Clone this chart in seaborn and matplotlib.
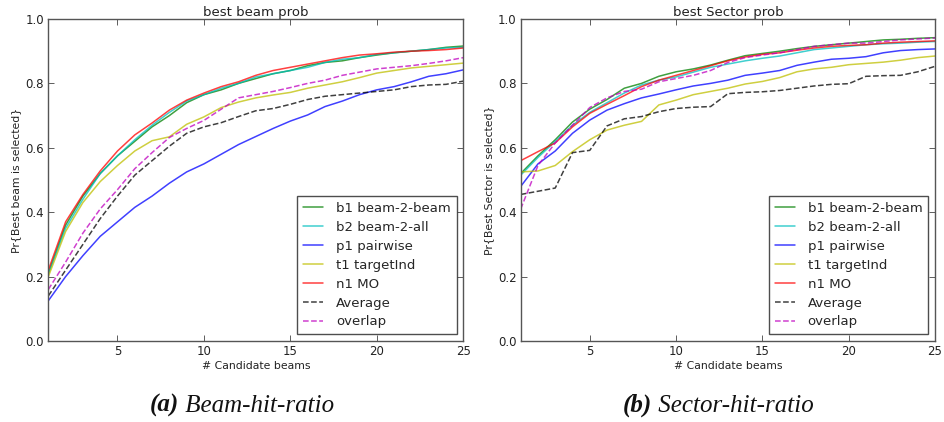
import numpy as np
import pandas as pd
import matplotlib
matplotlib.use("Agg")
import matplotlib.pyplot as plt
import seaborn as sns

x = list(range(1, 26))

labels = ["b1 beam-2-beam", "b2 beam-2-all", "p1 pairwise", "t1 targetInd", "n1 MO", "Average", "overlap"]

# Panel (a): best beam prob
beam_b1 = [0.21, 0.36, 0.45, 0.52, 0.575, 0.62, 0.665, 0.70, 0.74, 0.765, 0.78, 0.80, 0.815, 0.83, 0.84,
           0.855, 0.865, 0.87, 0.88, 0.888, 0.895, 0.90, 0.905, 0.912, 0.916]
beam_b2 = [0.21, 0.35, 0.44, 0.52, 0.575, 0.625, 0.67, 0.71, 0.745, 0.765, 0.785, 0.80, 0.82, 0.83, 0.84,
           0.85, 0.865, 0.875, 0.88, 0.89, 0.895, 0.90, 0.905, 0.91, 0.912]
beam_p1 = [0.125, 0.20, 0.265, 0.325, 0.37, 0.415, 0.45, 0.49, 0.525, 0.55, 0.58, 0.61, 0.635, 0.66, 0.683,
           0.702, 0.728, 0.745, 0.765, 0.78, 0.79, 0.805, 0.822, 0.83, 0.842]
beam_t1 = [0.20, 0.34, 0.43, 0.495, 0.545, 0.59, 0.622, 0.634, 0.673, 0.696, 0.725, 0.742, 0.755, 0.764, 0.772,
           0.785, 0.795, 0.805, 0.818, 0.832, 0.84, 0.848, 0.853, 0.858, 0.863]
beam_n1 = [0.22, 0.37, 0.455, 0.528, 0.59, 0.64, 0.677, 0.717, 0.748, 0.77, 0.79, 0.805, 0.825, 0.84, 0.85,
           0.86, 0.87, 0.88, 0.888, 0.892, 0.897, 0.90, 0.902, 0.905, 0.91]
beam_avg = [0.14, 0.22, 0.30, 0.38, 0.45, 0.515, 0.56, 0.605, 0.645, 0.665, 0.678, 0.697, 0.715, 0.722, 0.735,
            0.75, 0.76, 0.765, 0.77, 0.775, 0.78, 0.79, 0.795, 0.797, 0.807]
beam_ovl = [0.16, 0.245, 0.335, 0.41, 0.47, 0.535, 0.585, 0.632, 0.66, 0.685, 0.72, 0.755, 0.765, 0.775, 0.787,
            0.80, 0.81, 0.825, 0.835, 0.845, 0.85, 0.855, 0.862, 0.87, 0.88]

# Panel (b): best Sector prob
sec_b1 = [0.52, 0.575, 0.625, 0.68, 0.72, 0.75, 0.785, 0.80, 0.822, 0.836, 0.845, 0.857, 0.872, 0.886, 0.893,
          0.90, 0.908, 0.915, 0.92, 0.925, 0.93, 0.935, 0.937, 0.94, 0.942]
sec_b2 = [0.515, 0.57, 0.62, 0.67, 0.71, 0.74, 0.77, 0.795, 0.81, 0.82, 0.835, 0.85, 0.86, 0.87, 0.878,
          0.885, 0.895, 0.905, 0.91, 0.915, 0.92, 0.923, 0.925, 0.928, 0.93]
sec_p1 = [0.48, 0.55, 0.59, 0.645, 0.686, 0.717, 0.737, 0.755, 0.767, 0.78, 0.792, 0.80, 0.81, 0.825, 0.832,
          0.84, 0.856, 0.866, 0.875, 0.878, 0.883, 0.895, 0.902, 0.905, 0.907]
sec_t1 = [0.525, 0.528, 0.545, 0.588, 0.625, 0.655, 0.67, 0.682, 0.733, 0.748, 0.765, 0.775, 0.785, 0.798, 0.806,
          0.818, 0.836, 0.845, 0.85, 0.858, 0.862, 0.866, 0.872, 0.88, 0.885]
sec_n1 = [0.56, 0.588, 0.615, 0.665, 0.707, 0.735, 0.762, 0.79, 0.81, 0.825, 0.84, 0.855, 0.87, 0.882, 0.89,
          0.895, 0.903, 0.91, 0.915, 0.918, 0.92, 0.925, 0.928, 0.93, 0.932]
sec_avg = [0.455, 0.465, 0.475, 0.585, 0.592, 0.668, 0.69, 0.697, 0.712, 0.722, 0.726, 0.728, 0.768, 0.772, 0.774,
           0.778, 0.785, 0.792, 0.797, 0.799, 0.822, 0.824, 0.825, 0.836, 0.853]
sec_ovl = [0.41, 0.545, 0.615, 0.67, 0.725, 0.755, 0.775, 0.782, 0.805, 0.815, 0.825, 0.84, 0.865, 0.88, 0.888,
           0.895, 0.905, 0.915, 0.92, 0.925, 0.925, 0.93, 0.935, 0.938, 0.941]

titles = ["best beam prob", "best Sector prob"]
ylabels = ["Pr{Best beam is selected}", "Pr{Best Sector is selected}"]
xlabel = "# Candidate beams"
captions = [("(a)", " Beam-hit-ratio"), ("(b)", " Sector-hit-ratio")]

colors = ["#008000", "#00bfbf", "#0000ff", "#bfbf00", "#ff0000", "#000000", "#bf00bf"]
dashed = [False, False, False, False, False, True, True]

panels = [
    [beam_b1, beam_b2, beam_p1, beam_t1, beam_n1, beam_avg, beam_ovl],
    [sec_b1, sec_b2, sec_p1, sec_t1, sec_n1, sec_avg, sec_ovl],
]

sns.set_style("ticks")
plt.rcParams["font.family"] = ["DejaVu Sans"]
plt.rcParams["xtick.direction"] = "in"
plt.rcParams["ytick.direction"] = "in"

fig = plt.figure(figsize=(9.44, 4.22), dpi=100)
axes_pos = [[0.0512, 0.192, 0.4396, 0.763], [0.5516, 0.192, 0.4389, 0.763]]
caption_centers = [242 / 944, 718 / 944]

for i, series in enumerate(panels):
    ax = fig.add_axes(axes_pos[i])
    for lab, ys, c, d in zip(labels, series, colors, dashed):
        df = pd.DataFrame({"x": x, "y": ys})
        sns.lineplot(data=df, x="x", y="y", ax=ax, color=c, label=lab, alpha=0.75,
                     linewidth=1.1, linestyle="--" if d else "-")
    ax.set_xlim(1, 25)
    ax.set_ylim(0, 1.0)
    ax.set_xticks([5, 10, 15, 20, 25])
    ax.set_yticks([0.0, 0.2, 0.4, 0.6, 0.8, 1.0])
    ax.set_yticklabels(["0.0", "0.2", "0.4", "0.6", "0.8", "1.0"])
    ax.tick_params(axis="both", which="major", labelsize=8.5, length=4, width=0.6,
                   top=True, right=True, colors="#444444", labelcolor="#222222", pad=3)
    for sp in ax.spines.values():
        sp.set_visible(True)
        sp.set_color("#555555")
        sp.set_linewidth(1.0)
    ax.set_title(titles[i], fontsize=9.5, pad=2, color="#222222")
    ax.set_xlabel(xlabel, fontsize=7.8, labelpad=2, color="#222222")
    ax.set_ylabel(ylabels[i], fontsize=7.8, labelpad=3, color="#222222")
    leg = ax.legend(loc="lower right", fontsize=9.5, frameon=True, fancybox=False,
                    handlelength=1.5, handletextpad=1.0, labelspacing=0.45,
                    borderpad=0.45, borderaxespad=0.5)
    leg.get_frame().set_edgecolor("#222222")
    leg.get_frame().set_linewidth(1.0)
    for ln in leg.get_lines():
        ln.set_alpha(0.75)

# captions: bold-italic label followed by italic text, centred as one unit
fig.canvas.draw()
renderer = fig.canvas.get_renderer()
for i in range(2):
    lbl, rest = captions[i]
    t1 = fig.text(0, 0.024, lbl, fontsize=18, family="Liberation Serif",
                  style="italic", weight="bold", ha="left", va="baseline", color="#111111")
    t2 = fig.text(0, 0.024, rest, fontsize=18, family="Liberation Serif",
                  style="italic", ha="left", va="baseline", color="#111111")
    w1 = t1.get_window_extent(renderer).width / fig.bbox.width
    w2 = t2.get_window_extent(renderer).width / fig.bbox.width
    start = caption_centers[i] - (w1 + w2) / 2
    t1.set_x(start)
    t2.set_x(start + w1)

fig.savefig("out.png", dpi=100)
